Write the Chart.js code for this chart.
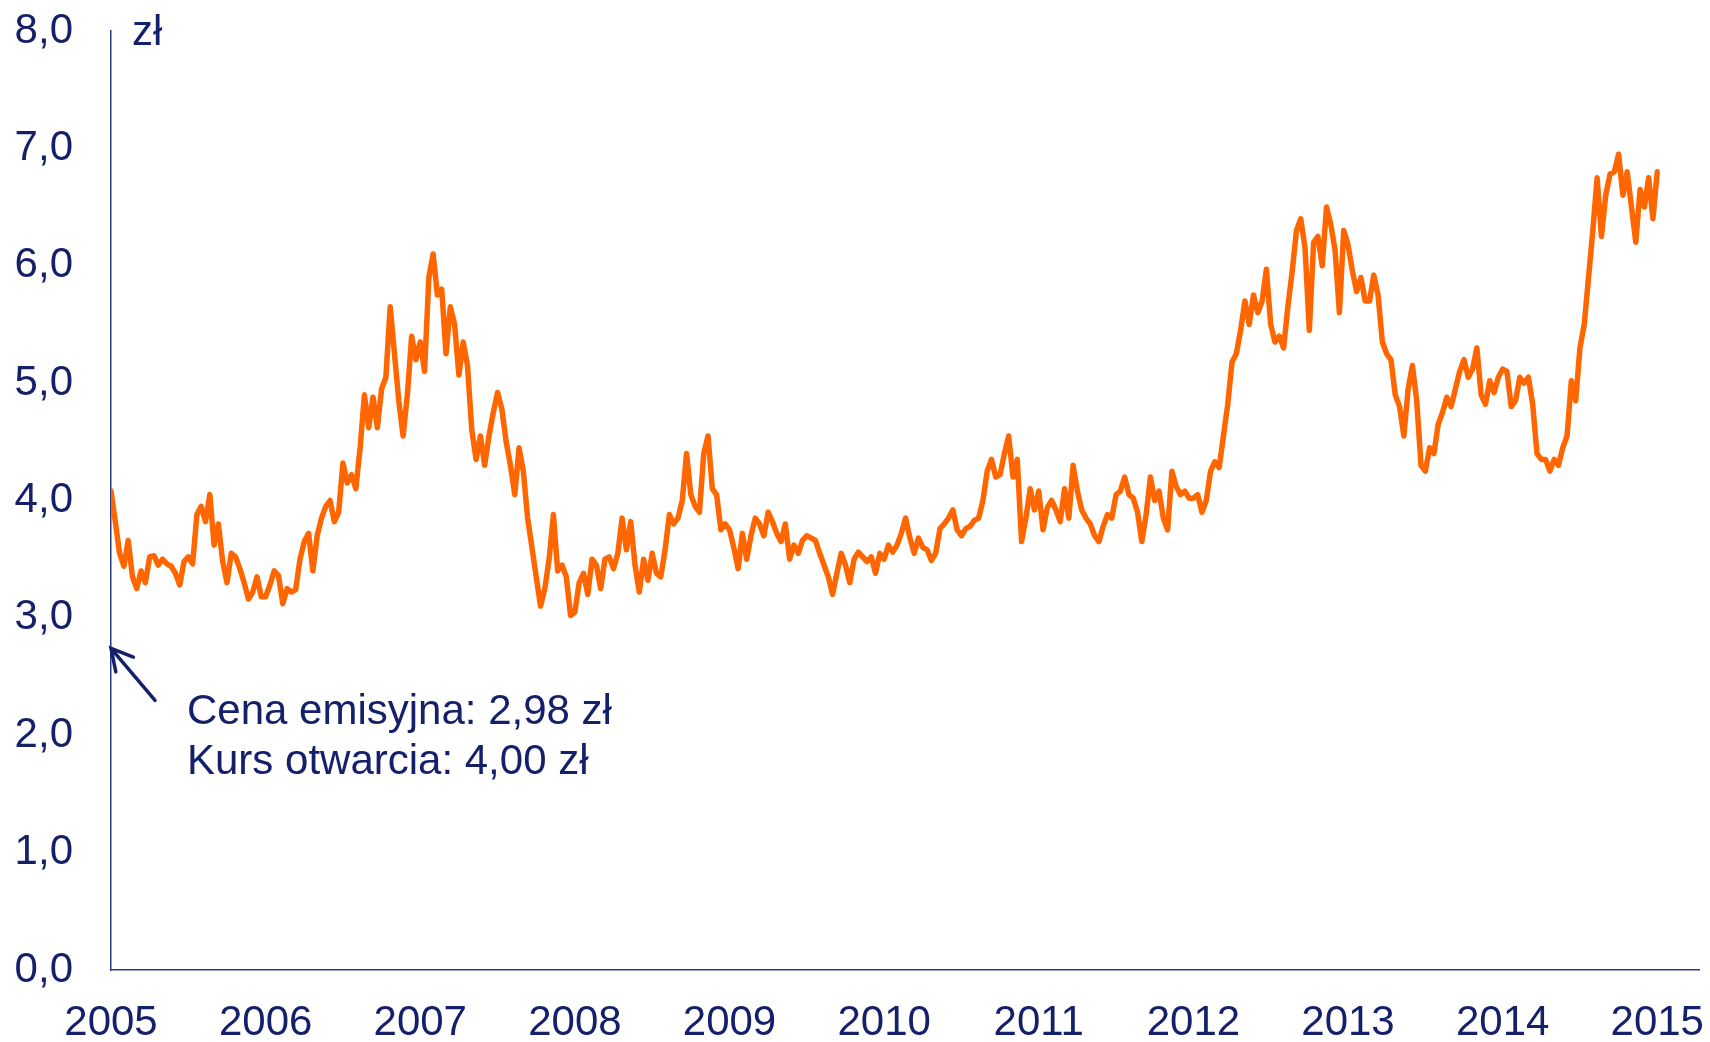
<!DOCTYPE html>
<html>
<head>
<meta charset="utf-8">
<script src="https://cdn.jsdelivr.net/npm/chart.js@4.4.1/dist/chart.umd.min.js"></script>
<style>
  html, body { margin: 0; padding: 0; background: #fff; }
</style>
</head>
<body>
<canvas id="chart" width="1710" height="1042"></canvas>
<script>
// year tick labels on the x axis and value ticks on the y axis
const years = [2005, 2006, 2007, 2008, 2009, 2010, 2011, 2012, 2013, 2014, 2015];
const yTicks = [0, 1, 2, 3, 4, 5, 6, 7, 8];

// share price (zł), 36 readings per year
const p2005 = [4.08, 3.82, 3.55, 3.44, 3.66, 3.35, 3.25, 3.40, 3.30, 3.52, 3.53, 3.45, 3.50, 3.46, 3.44, 3.38, 3.28, 3.48,
               3.52, 3.46, 3.88, 3.95, 3.82, 4.05, 3.62, 3.80, 3.48, 3.30, 3.55, 3.52, 3.42, 3.30, 3.16, 3.22, 3.35, 3.18];
const p2006 = [3.18, 3.28, 3.40, 3.36, 3.12, 3.25, 3.22, 3.24, 3.50, 3.65, 3.72, 3.40, 3.70, 3.85, 3.95, 4.00, 3.82, 3.90,
               4.32, 4.15, 4.22, 4.10, 4.45, 4.90, 4.62, 4.88, 4.62, 4.95, 5.05, 5.65, 5.25, 4.85, 4.55, 4.90, 5.40, 5.20];
const p2007 = [5.35, 5.10, 5.90, 6.10, 5.75, 5.80, 5.25, 5.65, 5.50, 5.07, 5.35, 5.15, 4.60, 4.35, 4.55, 4.30, 4.55, 4.75,
               4.92, 4.78, 4.50, 4.30, 4.05, 4.45, 4.25, 3.85, 3.60, 3.35, 3.10, 3.25, 3.50, 3.88, 3.40, 3.45, 3.35, 3.02];
const p2008 = [3.05, 3.30, 3.38, 3.20, 3.50, 3.45, 3.25, 3.50, 3.52, 3.42, 3.55, 3.85, 3.58, 3.82, 3.45, 3.22, 3.50, 3.32,
               3.55, 3.38, 3.35, 3.58, 3.88, 3.80, 3.85, 4.00, 4.40, 4.05, 3.95, 3.90, 4.40, 4.55, 4.10, 4.05, 3.75, 3.80];
const p2009 = [3.75, 3.60, 3.42, 3.72, 3.50, 3.70, 3.85, 3.80, 3.70, 3.90, 3.82, 3.72, 3.65, 3.80, 3.50, 3.62, 3.55, 3.66,
               3.70, 3.68, 3.66, 3.55, 3.45, 3.35, 3.20, 3.38, 3.55, 3.45, 3.30, 3.50, 3.56, 3.52, 3.48, 3.52, 3.38, 3.55];
const p2010 = [3.50, 3.62, 3.56, 3.62, 3.72, 3.85, 3.68, 3.55, 3.68, 3.60, 3.58, 3.49, 3.55, 3.76, 3.80, 3.85, 3.92, 3.75,
               3.70, 3.76, 3.78, 3.83, 3.85, 4.00, 4.25, 4.35, 4.20, 4.22, 4.40, 4.55, 4.20, 4.35, 3.65, 3.85, 4.10, 3.92];
const p2011 = [4.08, 3.75, 3.94, 4.00, 3.92, 3.82, 4.10, 3.85, 4.30, 4.08, 3.92, 3.85, 3.80, 3.70, 3.65, 3.78, 3.88, 3.85,
               4.05, 4.08, 4.20, 4.05, 4.02, 3.90, 3.65, 3.88, 4.20, 4.00, 4.08, 3.85, 3.75, 4.25, 4.12, 4.05, 4.08, 4.02];
const p2012 = [4.02, 4.05, 3.90, 4.00, 4.25, 4.33, 4.28, 4.55, 4.82, 5.18, 5.25, 5.45, 5.70, 5.50, 5.75, 5.60, 5.70, 5.97,
               5.50, 5.35, 5.40, 5.30, 5.65, 5.95, 6.30, 6.40, 6.15, 5.45, 6.20, 6.25, 6.00, 6.50, 6.35, 6.13, 5.60, 6.30];
const p2013 = [6.18, 5.96, 5.78, 5.90, 5.70, 5.70, 5.92, 5.75, 5.35, 5.25, 5.20, 4.90, 4.80, 4.55, 4.95, 5.15, 4.85, 4.30,
               4.25, 4.45, 4.40, 4.65, 4.75, 4.88, 4.80, 4.95, 5.10, 5.20, 5.05, 5.12, 5.30, 4.90, 4.82, 5.02, 4.92, 5.05];
const p2014 = [5.12, 5.10, 4.80, 4.85, 5.05, 5.00, 5.05, 4.82, 4.40, 4.35, 4.35, 4.25, 4.35, 4.30, 4.45, 4.55, 5.02, 4.85,
               5.30, 5.50, 5.90, 6.30, 6.75, 6.25, 6.60, 6.78, 6.80, 6.95, 6.60, 6.80, 6.50, 6.20, 6.65, 6.50, 6.75, 6.40];
const lastPrice = 6.80; // close at the turn of 2015

const yearly = [p2005, p2006, p2007, p2008, p2009, p2010, p2011, p2012, p2013, p2014];

const navy = '#15206b';
const orange = '#ff6600';
const font = 'Liberation Sans, Arial, sans-serif';

const points = [];
yearly.forEach((arr, k) => {
  arr.forEach((v, i) => points.push({ x: years[k] + i / arr.length, y: v }));
});
points.push({ x: years[yearly.length], y: lastPrice });

const notes = {
  id: 'notes',
  afterDraw(chart) {
    const ctx = chart.ctx;
    const xs = chart.scales.x, ys = chart.scales.y;
    const x0 = xs.getPixelForValue(years[0]);
    ctx.save();
    ctx.fillStyle = navy;
    ctx.font = '42px ' + font;
    ctx.textBaseline = 'alphabetic';
    ctx.textAlign = 'left';
    // unit next to the top of the axis
    ctx.fillText('zł', x0 + 21, ys.getPixelForValue(8) + 14);
    // note about the IPO
    ctx.fillText('Cena emisyjna: 2,98 zł', x0 + 76, ys.getPixelForValue(2.10));
    ctx.fillText('Kurs otwarcia: 4,00 zł', x0 + 76, ys.getPixelForValue(1.67));

    // arrow
    const tipX = x0, tipY = ys.getPixelForValue(2.74);
    const tailX = tipX + 44, tailY = tipY + 52;
    const ang = Math.atan2(tailY - tipY, tailX - tipX);
    ctx.strokeStyle = navy;
    ctx.lineWidth = 3.5;
    ctx.lineCap = 'round';
    ctx.beginPath();
    ctx.moveTo(tailX, tailY);
    ctx.lineTo(tipX, tipY);
    ctx.moveTo(tipX + 24 * Math.cos(ang + 0.5), tipY + 24 * Math.sin(ang + 0.5));
    ctx.lineTo(tipX, tipY);
    ctx.lineTo(tipX + 24 * Math.cos(ang - 0.5), tipY + 24 * Math.sin(ang - 0.5));
    ctx.stroke();
    ctx.restore();
  }
};

new Chart(document.getElementById('chart'), {
  type: 'line',
  data: {
    datasets: [{
      data: points,
      borderColor: orange,
      borderWidth: 5.5,
      borderJoinStyle: 'round',
      borderCapStyle: 'round',
      pointRadius: 0,
      tension: 0,
      fill: false
    }]
  },
  options: {
    responsive: false,
    animation: false,
    parsing: false,
    layout: { padding: 0 },
    plugins: {
      legend: { display: false },
      tooltip: { enabled: false }
    },
    scales: {
      x: {
        type: 'linear',
        min: years[0],
        max: 2015.27,
        afterBuildTicks: s => { s.ticks = years.map(v => ({ value: v })); },
        afterFit: s => { s.height = 72; s.paddingLeft = 0; s.paddingRight = 11; },
        grid: { display: false, drawTicks: false },
        border: { display: true, color: '#2a3a80', width: 1.5 },
        ticks: {
          autoSkip: false,
          maxRotation: 0,
          padding: 28,
          color: navy,
          font: { family: font, size: 42 },
          callback: v => String(v)
        }
      },
      y: {
        min: 0,
        max: 8,
        afterBuildTicks: s => { s.ticks = yTicks.map(v => ({ value: v })); },
        afterFit: s => { s.width = 111; s.paddingTop = 31; s.paddingBottom = 0; },
        grid: { display: false, drawTicks: false },
        border: { display: true, color: '#2a3a80', width: 1.5 },
        ticks: {
          padding: 38,
          color: navy,
          font: { family: font, size: 42 },
          callback: v => v.toFixed(1).replace('.', ',')
        }
      }
    }
  },
  plugins: [notes]
});
</script>
</body>
</html>
